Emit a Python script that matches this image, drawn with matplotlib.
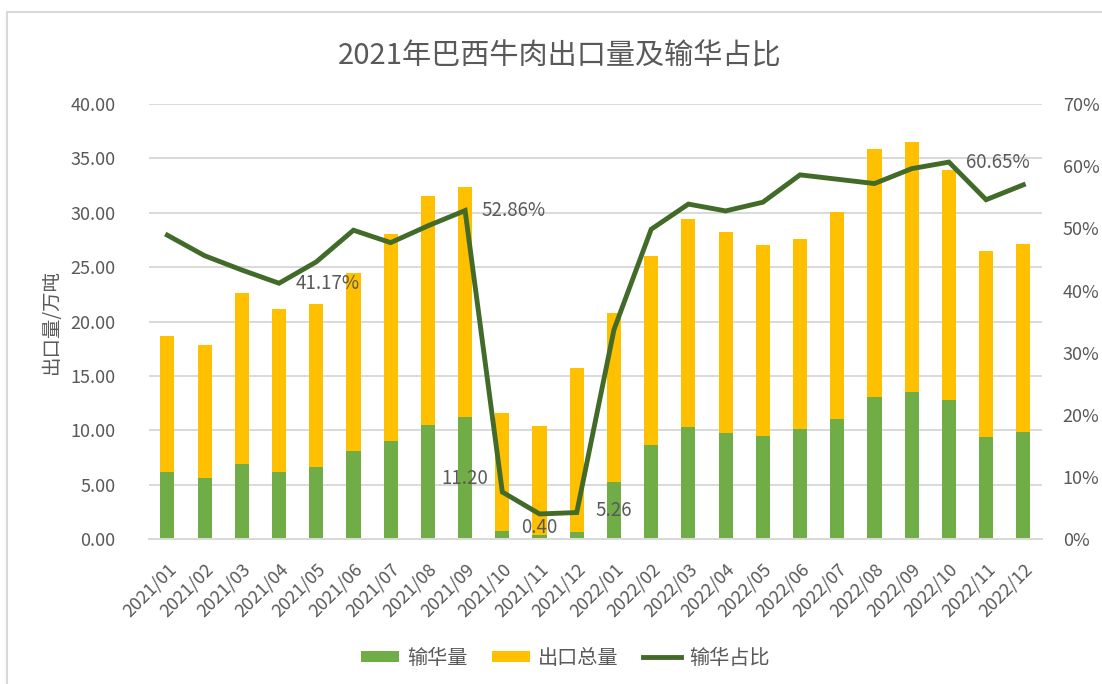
import matplotlib
matplotlib.use("Agg")
import matplotlib.pyplot as plt
from matplotlib.patches import Rectangle
import numpy as np

plt.rcParams['font.family'] = ['Noto Sans CJK SC', 'DejaVu Sans']

months = ['2021/01', '2021/02', '2021/03', '2021/04', '2021/05', '2021/06',
          '2021/07', '2021/08', '2021/09', '2021/10', '2021/11', '2021/12',
          '2022/01', '2022/02', '2022/03', '2022/04', '2022/05', '2022/06',
          '2022/07', '2022/08', '2022/09', '2022/10', '2022/11', '2022/12']
# 输华量 (万吨)
to_china = [6.16, 5.66, 6.89, 6.18, 6.67, 8.14, 9.06, 10.50, 11.20, 0.79, 0.40, 0.67,
            5.26, 8.67, 10.32, 9.80, 9.52, 10.17, 11.03, 13.05, 13.54, 12.80, 9.40, 9.89]
# 出口总量 (万吨)
total_export = [12.55, 12.23, 15.78, 15.01, 14.96, 16.36, 18.97, 21.08, 21.19, 10.79, 10.01, 15.05,
                15.57, 17.40, 19.09, 18.44, 17.50, 17.46, 19.05, 22.85, 22.98, 21.10, 17.07, 17.22]
# 输华占比 (%)
share = [48.9, 45.6, 43.3, 41.17, 44.6, 49.7, 47.7, 50.4, 52.86, 7.6, 4.07, 4.3,
         33.7, 49.85, 53.9, 52.8, 54.2, 58.6, 57.9, 57.2, 59.6, 60.65, 54.6, 57.0]

bar_labels = [8, 10, 12]      # which 输华量 bars get a value label
share_labels = [3, 8, 21]     # which 占比 points get a label

GREEN = '#70ad47'
YELLOW = '#ffc000'
DARK = '#426b2a'
GRAY = '#595959'
GRID = '#d9d9d9'

fig = plt.figure(figsize=(11.02, 6.84), dpi=100)
ax = fig.add_axes([0.135, 0.2116, 0.8105, 0.6364])
ax2 = ax.twinx()

x = np.arange(len(months))
w = 0.38
ax.bar(x, to_china, w, color=GREEN, label='输华量', zorder=2)
ax.bar(x, total_export, w, bottom=to_china, color=YELLOW, label='出口总量', zorder=2)
ln, = ax2.plot(x, np.array(share) / 100, color=DARK, lw=3.5, label='输华占比',
               solid_joinstyle='miter')

ax.set_xlim(-0.5, len(months) - 0.5)
ax.set_ylim(0, 40)
ax.set_yticks(np.arange(0, 40.1, 5))
ax.set_yticklabels(['%.2f' % v for v in np.arange(0, 40.1, 5)])
ax2.set_ylim(0, 0.70)
ax2.set_yticks(np.arange(0, 0.71, 0.1))
ax2.set_yticklabels(['%d%%' % round(v * 100) for v in np.arange(0, 0.71, 0.1)])

ax.yaxis.grid(True, color=GRID, lw=1.4, zorder=0)
ax.set_axisbelow(True)
for a in (ax, ax2):
    for s in ('top', 'right', 'left'):
        a.spines[s].set_visible(False)
    a.spines['bottom'].set_color(GRID)
    a.spines['bottom'].set_linewidth(1.4)
    a.tick_params(length=0, labelsize=13, colors=GRAY)
ax.tick_params(axis='y', pad=24)
ax2.tick_params(axis='y', pad=15)

ax.set_xticks(x)
ax.set_xticklabels(months, rotation=45, ha='right', rotation_mode='anchor')
ax.tick_params(axis='x', pad=15)

ax.set_ylabel('出口量/万吨', fontsize=14, color=GRAY, labelpad=6)

for i in bar_labels:
    ax.text(x[i], max(to_china[i] / 2, 1.1), '%.2f' % to_china[i], ha='center',
            va='center', fontsize=13.5, color=GRAY, zorder=5)
for i in share_labels:
    ax2.annotate('%.2f%%' % share[i], (x[i], share[i] / 100), xytext=(12, 0),
                 textcoords='offset points', ha='left', va='center',
                 fontsize=13.5, color=GRAY)

fig.text(0.508, 0.918, '2021年巴西牛肉出口量及输华占比', ha='center', va='center',
         fontsize=21, color=GRAY)

handles = ax.get_legend_handles_labels()[0] + [ln]
leg = fig.legend(handles, ['输华量', '出口总量', '输华占比'], loc='center',
                 bbox_to_anchor=(0.513, 0.038), ncol=3, frameon=False, fontsize=14.5,
                 handlelength=1.9, handleheight=0.5, handletextpad=0.4,
                 columnspacing=1.2)
for t in leg.get_texts():
    t.set_color(GRAY)

# outer chart frame (screenshot edge)
fig.add_artist(Rectangle((7 / 1102, -0.1), 1.2, 1 - 12 / 684 + 0.1,
                         transform=fig.transFigure, fill=False,
                         edgecolor=GRID, lw=1.5))

fig.savefig('out.png', dpi=100)
